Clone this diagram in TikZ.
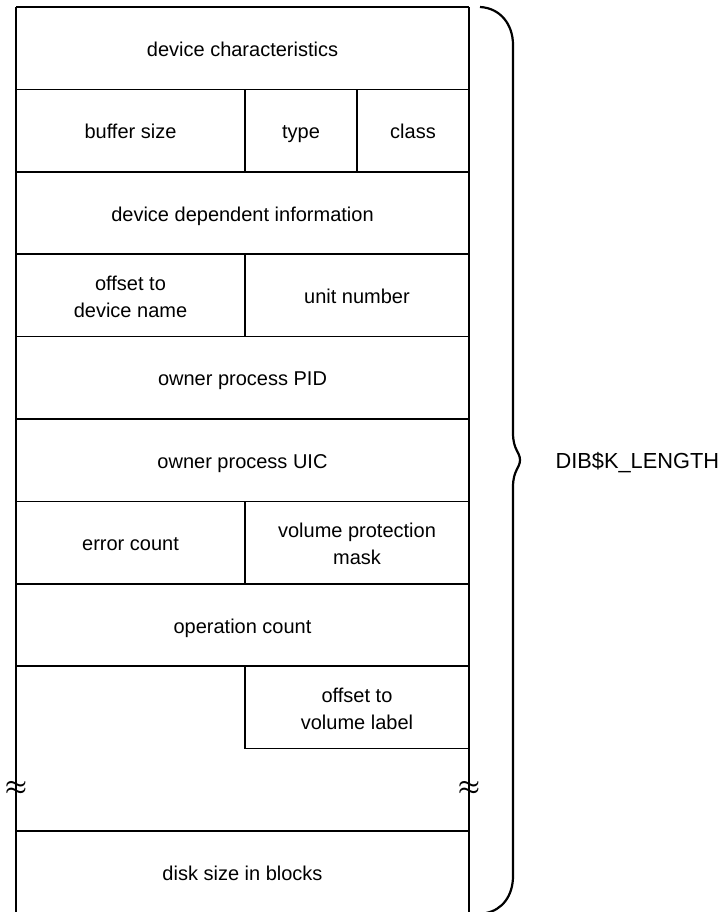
\documentclass[tikz,border=0pt]{standalone}
\usepackage{fontspec}
\setmainfont{Liberation Sans}
\begin{document}
\begin{tikzpicture}[x=1pt,y=-1pt,
  field/.style={align=center,font=\fontsize{20}{27}\selectfont,
    text height=18pt,text depth=2pt},
  twoline/.style={align=center,font=\fontsize{20}{27}\selectfont},
  rule/.style={line width=1.6pt},
  breakmark/.style={font=\fontsize{32}{32}\selectfont\boldmath}]
  \useasboundingbox (0,0) rectangle (725,912);
  % outline of the block
  \draw[rule] (16,7) -- (469,7);
  \draw[rule] (16,7) -- (16,912);
  \draw[rule] (469,7) -- (469,912);
  \foreach \y in {89.4,171.8,254.2,336.6,419,501.4,583.8,666.2,831}
    \draw[rule] (16,\y) -- (469,\y);
  \draw[rule] (245,748.6) -- (469,748.6);
  % field dividers
  \draw[rule] (245,89.4) -- (245,171.8);
  \draw[rule] (357,89.4) -- (357,171.8);
  \draw[rule] (245,254.2) -- (245,336.6);
  \draw[rule] (245,501.4) -- (245,583.8);
  \draw[rule] (245,666.2) -- (245,748.6);
  % break marks
  \node[breakmark] (breakl) at (16,788) {$\approx$};
  \node[breakmark] (breakr) at (469,788) {$\approx$};
  % fields
  \node[field] (charac) at (242.5,48.2) {device characteristics};
  \node[field] (bufsize) at (130.5,130.6) {buffer size};
  \node[field] (type) at (301,130.6) {type};
  \node[field] (class) at (413,130.6) {class};
  \node[field] (devdep) at (242.5,213) {device dependent information};
  \node[twoline] (devnam) at (130.5,296.5) {offset to\\device name};
  \node[field] (unit) at (357,295.4) {unit number};
  \node[field] (pid) at (242.5,377.8) {owner process PID};
  \node[field] (uic) at (242.5,460.2) {owner process UIC};
  \node[field] (errcnt) at (130.5,542.6) {error count};
  \node[twoline] (volprot) at (357,543.7) {volume protection\\mask};
  \node[field] (opcnt) at (242.5,625) {operation count};
  \node[twoline] (vollbl) at (357,708.5) {offset to\\volume label};
  \node[field] (maxblock) at (242.5,872.2) {disk size in blocks};
  % brace and total length
  \draw[line width=2.2pt] (480,7) .. controls (500,8) and (513,24) .. (513,45)
    -- (513,433) .. controls (513,450) and (520,452) .. (520,460)
    .. controls (520,468) and (513,470) .. (513,487)
    -- (513,876) .. controls (513,896) and (502,910) .. (486,913);
  \node[field,anchor=west,font=\fontsize{21.8}{27}\selectfont] (length) at (552,460.2) {DIB\$K\_LENGTH};
\end{tikzpicture}
\end{document}
